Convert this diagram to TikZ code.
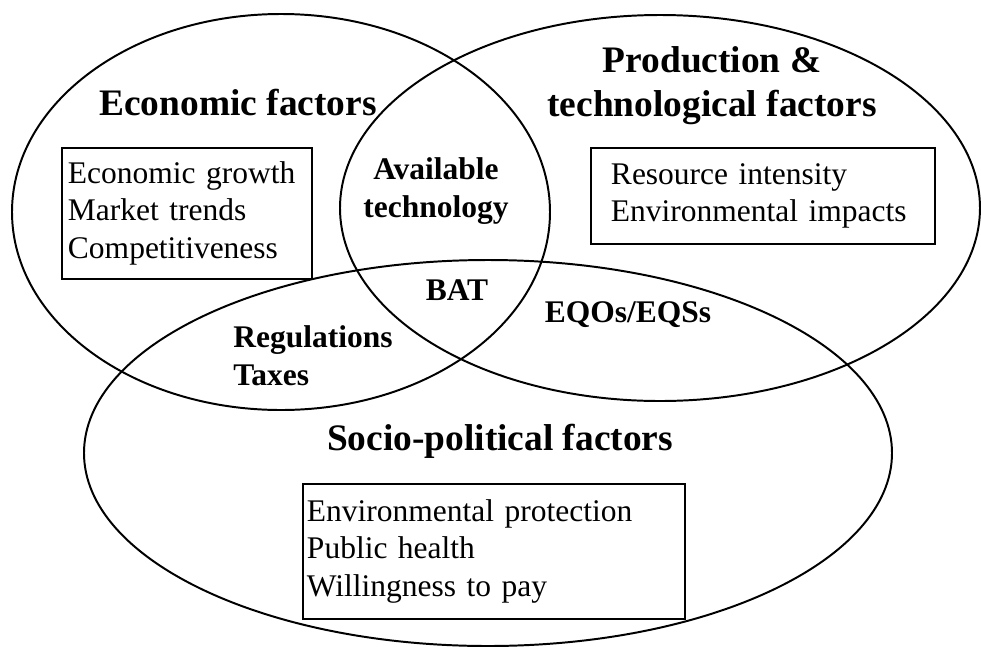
\documentclass[tikz,border=0pt]{standalone}
\usepackage{fontspec}
\setmainfont{Liberation Serif}

\newcommand{\bodyfont}{\fontsize{22.4}{26.5}\selectfont}
\newcommand{\headfont}{\fontsize{26.6}{31.2}\selectfont\bfseries}

\tikzset{
	ring/.style={line width=1.4pt},
	listbox/.style={draw, line width=1.4pt, anchor=north west, align=left,
		font=\bodyfont},
	heading/.style={font=\headfont, inner sep=0pt},
	overlap/.style={font=\bodyfont\bfseries, inner sep=0pt}
}

\begin{document}
\begin{tikzpicture}[x=0.025cm, y=-0.025cm]

		\useasboundingbox (0, 0) rectangle (981, 646);

		% the three circles of factors
		\draw[ring] (281, 212) ellipse [x radius=269, y radius=198];
		\draw[ring] (660, 208) ellipse [x radius=320, y radius=193];
		\draw[ring] (488, 453) ellipse [x radius=404, y radius=193];

		% base of a two-line node sits on its last line
		\node[heading, anchor=base] (econ) at (238, 115) {Economic factors};
		\node[heading, anchor=base, align=center] (prod) at (712, 116)
			{Production \&\\technological factors};
		\node[heading, anchor=base] (socio) at (500, 450)
			{Socio-political factors};

		% lists of factors
		\node[listbox, inner xsep=0.15cm, text width=5.95cm,
			minimum height=3.27cm] (econlist) at (61, 147)
			{Economic growth\\Market trends\\Competitiveness};
		\node[listbox, inner xsep=0.5cm, text width=7.6cm,
			minimum height=2.4cm] (prodlist) at (590, 147)
			{Resource intensity\\Environmental impacts};
		\node[listbox, inner xsep=0.1cm, text width=9.35cm,
			minimum height=3.37cm] (sociolist) at (302, 483)
			{Environmental protection\\Public health\\Willingness to pay};

		% overlaps
		\node[overlap, anchor=base, align=center] (avail) at (436, 217)
			{Available\\technology};
		\node[overlap, anchor=base] (bat) at (457, 300) {BAT};
		\node[overlap, anchor=base] (eqo) at (628, 322) {EQOs/EQSs};
		\node[overlap, anchor=base west, align=left] (regul) at (233, 385)
			{Regulations\\Taxes};
	\end{tikzpicture}
\end{document}
